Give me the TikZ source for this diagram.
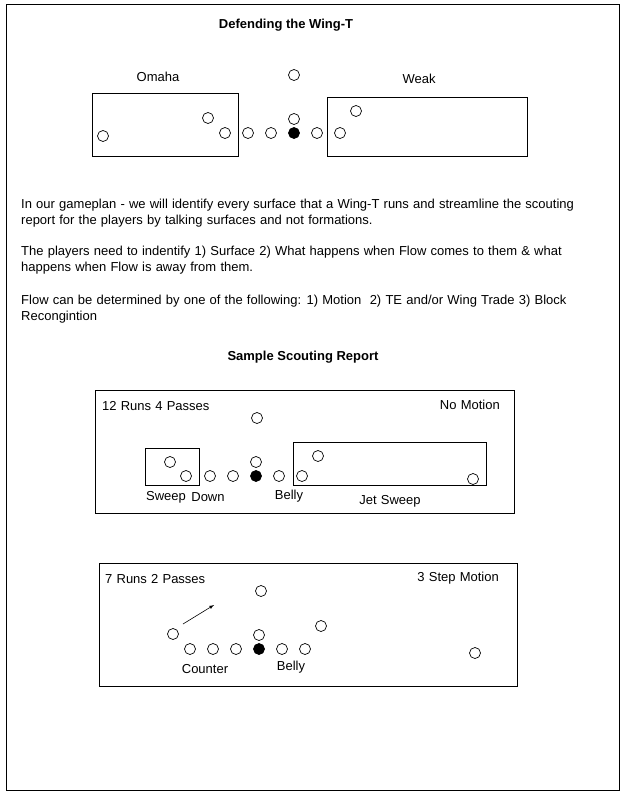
\documentclass[tikz,border=0pt]{standalone}
\usepackage{fontspec}
\setmainfont{Liberation Sans}
\usepackage{tikz}
\usetikzlibrary{positioning}

\newcommand{\widewords}{\spaceskip 4.2pt plus 1pt\relax}

\begin{document}
\begin{tikzpicture}[x=1pt, y=-1pt,
	player/.style={draw, circle, minimum size=11pt, inner sep=0pt, line width=0.7pt},
	ball/.style={player, fill=black},
	zone/.style={draw, line width=0.8pt},
	txt/.style={inner sep=0pt, font=\fontsize{13}{16}\selectfont\widewords},
	heading/.style={inner sep=0pt, font=\fontsize{13}{16}\selectfont\bfseries}]
	\useasboundingbox (0,0) rectangle (624,797);
	\draw[line width=0.9pt] (6,4) rectangle (619,790);
	
	\node[heading] (title) at (286, 25) {Defending the Wing-T};
	
	% top formation
	\draw[zone] (92, 93) rectangle (238, 156);
	\draw[zone] (327, 97) rectangle (527, 156);
	\node[txt] (omaha) at (158, 77) {Omaha};
	\node[txt] (weak) at (419, 79) {Weak};
	\node[player] (p1) at (103, 136) {};
	\node[player] (p2) at (208, 118) {};
	\node[player] (p3) at (225, 133) {};
	\node[player] (p4) at (248, 133) {};
	\node[player] (p5) at (271, 133) {};
	\node[ball] (p6) at (294, 133) {};
	\node[player] (p7) at (317, 133) {};
	\node[player] (p8) at (340, 133) {};
	\node[player] (p9) at (356, 111) {};
	\node[player] (p10) at (294, 119) {};
	\node[player] (p11) at (294, 75) {};
	
	% text
	\node[txt, anchor=west, align=left] (para1) at (21, 213)
		{In our gameplan - we will identify every surface that a Wing-T runs and streamline the scouting\\
		report for the players by talking surfaces and not formations.};
	\node[txt, anchor=west, align=left] (para2) at (21, 260)
		{The players need to indentify 1) Surface 2) What happens when Flow comes to them \& what\\
		happens when Flow is away from them.};
	\node[txt, anchor=west, align=left] (para3) at (21, 309)
		{Flow can be determined by one of the following: 1) Motion\ \ 2) TE and/or Wing Trade 3) Block\\
		Recongintion};
	
	\node[heading] (sample) at (303, 357) {Sample Scouting Report};
	
	% report one
	\draw[zone] (95, 390) rectangle (514, 513);
	\node[txt, anchor=west] (runs1) at (102, 406) {12 Runs 4 Passes};
	\node[txt, anchor=east] (motion1) at (500, 405) {No Motion};
	\draw[zone] (145, 448) rectangle (199, 485);
	\draw[zone] (293, 442) rectangle (486, 485);
	\node[player] (a1) at (170, 462) {};
	\node[player] (a2) at (186, 476) {};
	\node[player] (a3) at (210, 476) {};
	\node[player] (a4) at (233, 476) {};
	\node[ball] (a5) at (256, 476) {};
	\node[player] (a6) at (279, 476) {};
	\node[player] (a7) at (302, 476) {};
	\node[player] (a8) at (318, 456) {};
	\node[player] (a9) at (473, 479) {};
	\node[player] (a10) at (256, 462) {};
	\node[player] (a11) at (257, 418) {};
	\node[txt] (sweep1) at (166, 497) {Sweep};
	\node[txt] (down1) at (208, 497) {Down};
	\node[txt] (belly1) at (289, 496) {Belly};
	\node[txt] (jet1) at (390, 501) {Jet Sweep};
	
	% report two
	\draw[zone] (99, 563) rectangle (517, 686);
	\node[txt, anchor=west] (runs2) at (105, 579) {7 Runs 2 Passes};
	\node[txt, anchor=east] (motion2) at (499, 578) {3 Step Motion};
	\node[player] (b1) at (173, 634) {};
	\node[player] (b2) at (190, 649) {};
	\node[player] (b3) at (213, 649) {};
	\node[player] (b4) at (236, 649) {};
	\node[ball] (b5) at (259, 649) {};
	\node[player] (b6) at (282, 649) {};
	\node[player] (b7) at (305, 649) {};
	\node[player] (b8) at (321, 626) {};
	\node[player] (b9) at (475, 653) {};
	\node[player] (b10) at (259, 635) {};
	\node[player] (b11) at (261, 591) {};
	\coordinate (m1) at (183, 624);
	\coordinate (m2) at (214, 605);
	\draw[-latex, line width=0.6pt] (m1) -- (m2);
	\node[txt] (counter2) at (205, 669) {Counter};
	\node[txt] (belly2) at (291, 667) {Belly};
\end{tikzpicture}
\end{document}
